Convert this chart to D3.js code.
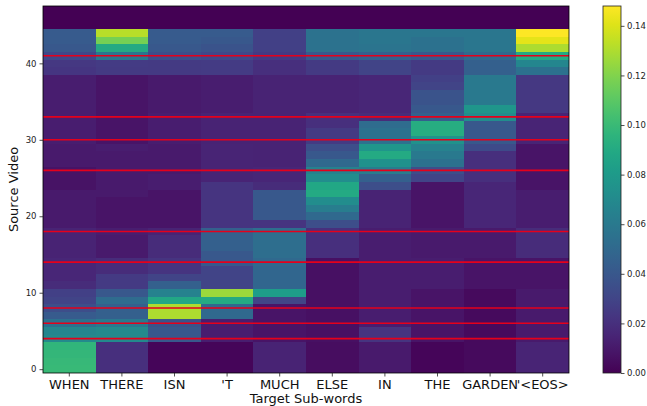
<!DOCTYPE html>
<html><head><meta charset="utf-8">
<script src="https://cdn.jsdelivr.net/npm/d3@7"></script>
<style>body{margin:0;background:#fff} svg text{font-family:"DejaVu Sans",sans-serif}</style>
</head><body><svg id="c" width="647" height="406"></svg>
<script>
// Target sub-words (columns)
const targetWords = ["WHEN","THERE","ISN","'T","MUCH","ELSE","IN","THE","GARDEN","'<EOS>"];
// attention weights per target word, source frame 0..47
const WHEN   = [0.100,0.099,0.098,0.097,0.070,0.068,0.055,0.042,0.035,0.030,0.028,0.018,0.016,0.016,0.016,0.014,0.014,0.014,0.014,0.010,0.010,0.010,0.010,0.010,0.007,0.007,0.007,0.010,0.010,0.010,0.012,0.012,0.012,0.012,0.012,0.012,0.012,0.012,0.012,0.023,0.024,0.032,0.040,0.042,0.042,0,0,0];
const THERE  = [0.020,0.020,0.020,0.020,0.070,0.070,0.060,0.045,0.045,0.052,0.040,0.025,0.025,0.018,0.018,0.010,0.010,0.010,0.012,0.008,0.008,0.008,0.008,0.010,0.010,0.010,0.010,0.010,0.010,0.012,0.008,0.008,0.008,0.008,0.008,0.008,0.008,0.008,0.008,0.025,0.026,0.058,0.090,0.117,0.132,0,0,0];
const ISN    = [0.002,0.002,0.002,0.002,0.040,0.040,0.038,0.130,0.130,0.088,0.065,0.045,0.030,0.022,0.022,0.018,0.018,0.018,0.014,0.008,0.008,0.008,0.008,0.008,0.012,0.012,0.010,0.010,0.010,0.010,0.012,0.012,0.012,0.012,0.010,0.010,0.010,0.010,0.010,0.025,0.025,0.035,0.040,0.042,0.042,0,0,0];
const T_     = [0.002,0.002,0.002,0.002,0.012,0.012,0.012,0.050,0.050,0.090,0.126,0.030,0.030,0.030,0.040,0.040,0.045,0.045,0.045,0.022,0.022,0.022,0.022,0.022,0.022,0.015,0.015,0.015,0.015,0.015,0.014,0.014,0.014,0.014,0.012,0.012,0.012,0.012,0.012,0.026,0.026,0.032,0.038,0.040,0.042,0,0,0];
const MUCH   = [0.014,0.014,0.014,0.014,0.008,0.008,0.008,0.008,0.008,0.030,0.082,0.048,0.048,0.048,0.050,0.053,0.053,0.053,0.053,0.022,0.040,0.040,0.040,0.040,0.018,0.016,0.016,0.014,0.014,0.014,0.014,0.014,0.014,0.014,0.014,0.014,0.014,0.014,0.014,0.020,0.020,0.025,0.028,0.028,0.028,0,0,0];
const ELSE   = [0.005,0.005,0.005,0.005,0.006,0.006,0.006,0.006,0.006,0.006,0.006,0.006,0.006,0.006,0.006,0.020,0.020,0.020,0.020,0.035,0.050,0.062,0.072,0.090,0.088,0.072,0.065,0.050,0.040,0.035,0.025,0.025,0.020,0.020,0.014,0.014,0.014,0.014,0.014,0.025,0.025,0.040,0.056,0.056,0.056,0,0,0];
const IN     = [0.010,0.010,0.010,0.010,0.022,0.022,0.012,0.012,0.012,0.012,0.012,0.012,0.012,0.012,0.012,0.012,0.012,0.012,0.012,0.014,0.014,0.014,0.014,0.014,0.035,0.045,0.062,0.075,0.090,0.078,0.055,0.055,0.052,0.018,0.016,0.016,0.016,0.016,0.016,0.030,0.030,0.045,0.057,0.058,0.058,0,0,0];
const THE    = [0.002,0.002,0.002,0.002,0.008,0.008,0.008,0.008,0.008,0.008,0.008,0.012,0.012,0.012,0.012,0.010,0.010,0.010,0.010,0.008,0.008,0.008,0.008,0.008,0.008,0.030,0.035,0.055,0.060,0.065,0.075,0.092,0.092,0.045,0.040,0.038,0.038,0.030,0.028,0.025,0.025,0.040,0.055,0.055,0.058,0,0,0];
const GARDEN = [0.004,0.004,0.004,0.004,0.004,0.004,0.004,0.004,0.004,0.004,0.004,0.008,0.008,0.008,0.008,0.010,0.010,0.010,0.010,0.016,0.016,0.016,0.016,0.016,0.016,0.020,0.020,0.020,0.020,0.033,0.040,0.040,0.040,0.072,0.078,0.060,0.060,0.060,0.060,0.045,0.045,0.050,0.058,0.058,0.058,0,0,0];
const EOS    = [0.015,0.015,0.015,0.015,0.010,0.010,0.010,0.010,0.010,0.010,0.010,0.008,0.008,0.008,0.008,0.018,0.018,0.018,0.018,0.012,0.012,0.012,0.012,0.012,0.008,0.008,0.008,0.008,0.008,0.008,0.015,0.015,0.015,0.015,0.024,0.024,0.024,0.024,0.024,0.055,0.068,0.090,0.130,0.142,0.148,0,0,0];
const columns = [WHEN, THERE, ISN, T_, MUCH, ELSE, IN, THE, GARDEN, EOS];
// segment boundaries (source frames)
const boundaries = [4, 6, 8, 14, 18, 26, 30, 33, 41];
const yTicks = [0, 10, 20, 30, 40];
const cbTicks = [0, 0.02, 0.04, 0.06, 0.08, 0.10, 0.12, 0.14];
const vmin = 0, vmax = 0.148;
const nRows = WHEN.length;

const svg = d3.select("#c");
const L = 43, R = 569, T = 6, B = 373;
const x = d3.scaleBand().domain(targetWords).range([L, R]).padding(0);
const y = d3.scaleLinear().domain([-0.5, nRows - 0.5]).range([B, T]);
const color = d3.scaleSequential(d3.interpolateViridis).domain([vmin, vmax]);

const cells = [];
columns.forEach((col, ci) => col.forEach((v, r) => cells.push({w: targetWords[ci], r, v})));
svg.append("g").selectAll("rect").data(cells).join("rect")
  .attr("x", d => x(d.w)).attr("width", x.bandwidth())
  .attr("y", d => y(d.r + 0.5)).attr("height", d => y(d.r - 0.5) - y(d.r + 0.5))
  .attr("fill", d => color(d.v)).attr("shape-rendering", "crispEdges");

// red boundary lines
svg.append("g").selectAll("line").data(boundaries).join("line")
  .attr("x1", L).attr("x2", R).attr("y1", d => y(d)).attr("y2", d => y(d))
  .attr("stroke", "#e5001b").attr("stroke-width", 1.6);

// frame
svg.append("rect").attr("x", L).attr("y", T).attr("width", R - L).attr("height", B - T)
  .attr("fill", "none").attr("stroke", "#000").attr("stroke-width", 0.8);

// axes
const ya = svg.append("g").attr("transform", `translate(${L},0)`)
  .call(d3.axisLeft(y).tickValues(yTicks).tickSize(3.5).tickPadding(3));
ya.select(".domain").remove();
ya.selectAll("text").attr("font-size", "8.5px").attr("fill", "#222").attr("font-family", "DejaVu Sans");
ya.selectAll("line").attr("stroke", "#222").attr("stroke-width", 0.8);

const xa = svg.append("g").attr("transform", `translate(0,${B})`)
  .call(d3.axisBottom(x).tickSize(3.5).tickPadding(3));
xa.select(".domain").remove();
xa.selectAll("text").attr("font-size", "13px").attr("fill", "#111").attr("font-family", "DejaVu Sans");
xa.selectAll("line").attr("stroke", "#222").attr("stroke-width", 0.8);

svg.append("text").attr("x", (L + R) / 2).attr("y", 403).attr("text-anchor", "middle")
  .attr("font-size", "13px").attr("fill", "#111").text("Target Sub-words");
svg.append("text").attr("transform", `translate(18,${(T + B) / 2}) rotate(-90)`).attr("text-anchor", "middle")
  .attr("font-size", "13px").attr("fill", "#111").text("Source Video");

// colorbar
const CL = 603, CR = 621;
const cy = d3.scaleLinear().domain([vmin, vmax]).range([B, T]);
const grad = svg.append("defs").append("linearGradient").attr("id", "vg")
  .attr("x1", 0).attr("y1", 1).attr("x2", 0).attr("y2", 0);
d3.range(0, 1.0001, 0.05).forEach(t => grad.append("stop").attr("offset", t).attr("stop-color", d3.interpolateViridis(t)));
svg.append("rect").attr("x", CL).attr("y", T).attr("width", CR - CL).attr("height", B - T).attr("fill", "url(#vg)");
svg.append("rect").attr("x", CL).attr("y", T).attr("width", CR - CL).attr("height", B - T)
  .attr("fill", "none").attr("stroke", "#222").attr("stroke-width", 0.8);
const ca = svg.append("g").attr("transform", `translate(${CR},0)`)
  .call(d3.axisRight(cy).tickValues(cbTicks).tickFormat(d3.format(".2f")).tickSize(3.5).tickPadding(2.5));
ca.select(".domain").remove();
ca.selectAll("text").attr("font-size", "8.5px").attr("fill", "#222").attr("font-family", "DejaVu Sans");
ca.selectAll("line").attr("stroke", "#222").attr("stroke-width", 0.8);
</script></body></html>
